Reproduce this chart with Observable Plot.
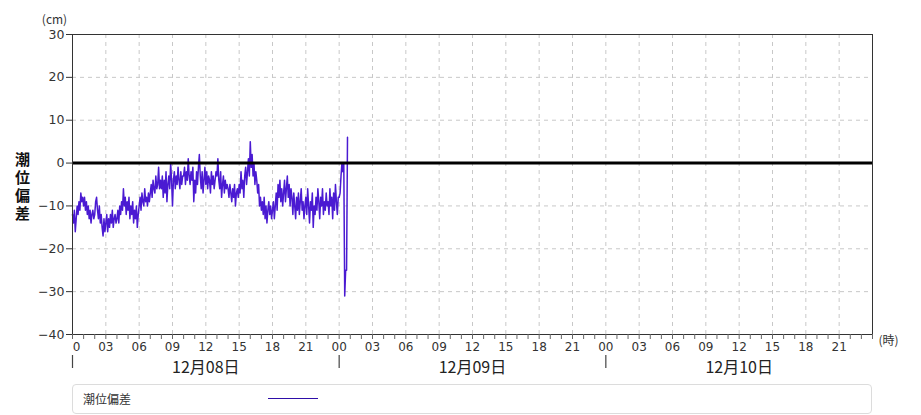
<!DOCTYPE html>
<html><head><meta charset="utf-8">
<script src="https://cdn.jsdelivr.net/npm/d3@7"></script>
<script src="https://cdn.jsdelivr.net/npm/@observablehq/plot@0.6"></script>
<style>
body{margin:0;background:#fff;font-family:"Noto Sans CJK JP","Noto Sans",sans-serif;}
#legend{position:relative;margin:4px 0 0 72px;width:798px;height:28px;border:1px solid #dcdcdc;border-radius:4px;}
#legend .lab{position:absolute;left:10px;top:5px;font-size:12px;color:#333;}
#legend .sw{position:absolute;left:195px;top:13px;width:50px;border-top:1px solid #2e0ea8;}
</style></head><body>
<div id="chart"></div>
<div id="legend"><span class="lab">潮位偏差</span><span class="sw"></span></div>
<script>
// y axis ticks (cm)
const yTicks = [30, 20, 10, 0, -10, -20, -30, -40];
// hour tick labels every 3 hours across three days
const hourTickLabels = ["0","03","06","09","12","15","18","21",
  "00","03","06","09","12","15","18","21",
  "00","03","06","09","12","15","18","21"];
const dayLabels = ["12月08日", "12月09日", "12月10日"];
const seriesName = "潮位偏差";
const stepMinutes = 5; // observation interval, from 12/08 00:00
// tide deviation (cm), 5-minute values
const surge = [
  -12,-14,-11,-16,-13,-10,-12,-9,-11,-7,-9,-8,
  -10,-8,-11,-9,-12,-10,-13,-11,-14,-12,-11,-13,
  -12,-9,-8,-11,-13,-10,-14,-12,-15,-17,-13,-16,
  -14,-12,-16,-13,-15,-12,-14,-11,-15,-13,-12,-14,
  -13,-11,-14,-10,-12,-9,-11,-6,-10,-8,-12,-9,
  -11,-8,-13,-10,-12,-9,-14,-11,-13,-10,-15,-12,
  -10,-8,-11,-7,-9,-10,-6,-9,-8,-10,-7,-9,
  -7,-5,-8,-4,-6,-7,-3,-6,-5,-1,-6,-4,
  -6,-3,-8,-4,-7,-2,-9,-5,-3,-6,0,-4,
  -10,-4,-2,-6,-3,-5,-1,-4,-6,-2,-5,-3,
  -3,-1,-5,-2,-4,1,-3,-5,-2,-4,-1,-9,
  -4,-7,-2,-5,-1,2,-3,-6,-2,-7,-4,-1,
  -5,-2,-6,-3,-4,-7,-2,-5,-3,-6,-4,-2,
  -3,1,-4,-6,-2,-8,-5,-3,-7,-4,-6,-5,
  -6,-8,-5,-7,-9,-6,-8,-5,-10,-7,-6,-8,
  -5,-7,-2,-6,-4,-8,-3,-1,-5,-2,1,-3,
  5,-1,2,-3,0,-5,-2,-4,-7,-5,-10,-8,
  -11,-9,-12,-8,-13,-10,-14,-11,-9,-12,-10,-13,
  -11,-9,-13,-10,-7,-11,-5,-8,-4,-9,-6,-10,
  -7,-4,-9,-6,-3,-8,-5,-10,-6,-8,-12,-7,
  -10,-13,-8,-11,-7,-12,-9,-6,-11,-9,-13,-10,
  -8,-12,-6,-10,-14,-9,-11,-7,-15,-10,-12,-8,
  -11,-6,-9,-13,-8,-10,-6,-12,-9,-11,-7,-10,
  -9,-12,-6,-10,-8,-13,-7,-11,-5,-9,-12,-8,
  -8,-7,-3,0,-2,0,-31,-25,-25,6
];

const data = surge.map((v, i) => ({h: i * stepMinutes / 60, v}));
const majorHours = hourTickLabels.map((_, i) => i * 3);
const majorTicks = majorHours.map((h, i) => ({h, label: hourTickLabels[i]}));
const dayTicks = dayLabels.map((_, i) => i * 24);
const dayMid = dayLabels.map((label, i) => ({h: i * 24 + 12, label}));
const minorHours = d3.range(0, 73, 1);

const numFont = '"DejaVu Sans","Noto Sans",sans-serif';
const gridColor = "#c8c8c8";
const verticalText = (index, scales, values, dims, ctx, next) => {
  const g = next(index, scales, values, dims, ctx);
  d3.select(g).selectAll("text").attr("writing-mode", "vertical-rl").style("letter-spacing", "3px");
  return g;
};
const chart = Plot.plot({
  width: 921, height: 380,
  marginLeft: 72, marginRight: 49, marginTop: 34, marginBottom: 46,
  style: {fontFamily: '"Noto Sans CJK JP","Noto Sans",sans-serif', fontSize: "13px", color: "#333", background: "#fff"},
  x: {domain: [0, 72]},
  y: {domain: [-40, 30]},
  marks: [
    Plot.gridX(majorHours.filter(h => h > 0), {stroke: gridColor, strokeOpacity: 1, strokeDasharray: "4,4"}),
    Plot.gridY(yTicks.filter(v => v !== 30 && v !== -40), {stroke: gridColor, strokeOpacity: 1, strokeDasharray: "4,4"}),
    Plot.line(data, {x: "h", y: "v", stroke: "#4a1ad2", strokeWidth: 1.5}),
    Plot.ruleY([0], {stroke: "#000", strokeWidth: 3}),
    Plot.frame({stroke: "#333"}),
    Plot.axisY(yTicks, {tickSize: 6, tickPadding: 2, label: null, fontSize: 12.5, fontFamily: numFont, color: "#333"}),
    Plot.axisX(minorHours, {tickSize: 5, tickFormat: () => "", label: null, stroke: "#666"}),
    Plot.text(majorTicks.slice(1), {x: "h", text: "label", frameAnchor: "bottom", dy: 16, fontSize: 12, fontFamily: numFont, fill: "#333"}),
    Plot.text(majorTicks.slice(0, 1), {x: "h", text: "label", frameAnchor: "bottom", dy: 16, dx: 4, fontSize: 12, fontFamily: numFont, fill: "#333"}),
    Plot.ruleX(dayTicks, {stroke: "#444", strokeWidth: 1.2, insetTop: 321, insetBottom: -34, clip: false}),
    Plot.text(dayMid, {x: "h", text: "label", frameAnchor: "bottom", dy: 38, fontSize: 16, fill: "#222"}),
    Plot.text(["(cm)"], {frameAnchor: "top-left", textAnchor: "middle", dx: -18, dy: -19, fontSize: 12, fill: "#333"}),
    Plot.text(["(時)"], {frameAnchor: "bottom-right", textAnchor: "start", dx: 6, dy: 10, fontSize: 12, fill: "#333"}),
    Plot.text([seriesName], {frameAnchor: "left", textAnchor: "middle", dx: -50, dy: -2, fontSize: 15, fontWeight: "bold", fill: "#111", render: verticalText})
  ]
});
document.getElementById("chart").append(chart);
</script>
</body></html>
